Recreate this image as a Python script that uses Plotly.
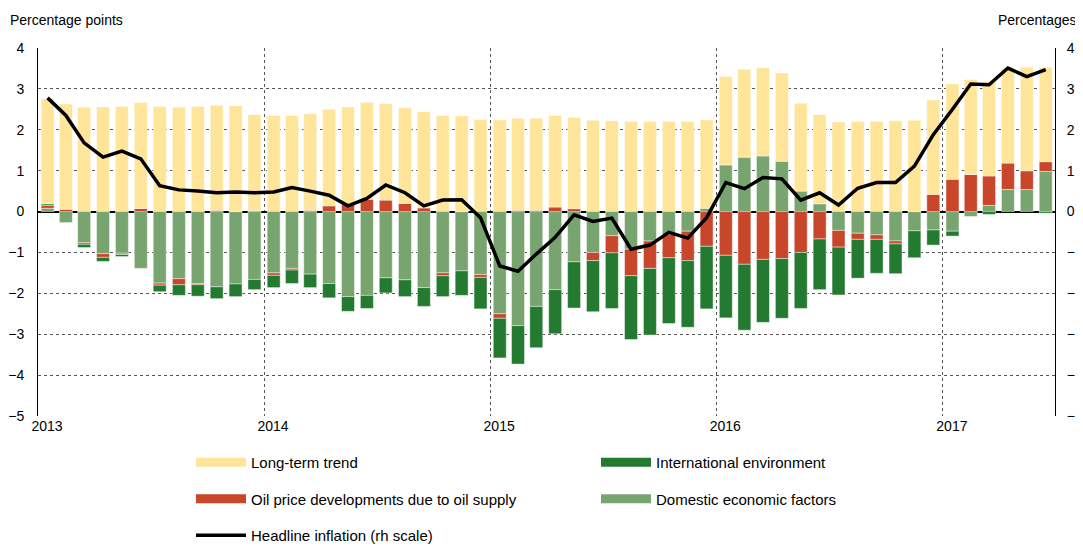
import pandas as pd
import plotly.graph_objects as go

months = pd.date_range("2013-01-01", "2017-06-01", freq="MS")

long_term_trend = [2.57, 2.57, 2.55, 2.56, 2.57, 2.59, 2.57, 2.55, 2.57, 2.57, 2.59, 2.35,
                   2.35, 2.35, 2.36, 2.36, 2.36, 2.37, 2.36, 2.34, 2.35, 2.35, 2.34, 2.25,
                   2.24, 2.25, 2.25, 2.24, 2.23, 2.23, 2.22, 2.20, 2.20, 2.20, 2.20, 2.16,
                   2.16, 2.15, 2.16, 2.16, 2.15, 2.18, 2.19, 2.20, 2.21, 2.22, 2.23, 2.31,
                   2.33, 2.32, 2.30, 2.32, 2.53, 2.31]
oil_supply = [0.07, 0.06, -0.04, -0.09, -0.03, 0.08, -0.05, -0.15, -0.03, 0.03, 0.00, 0.02,
              -0.06, -0.04, 0.03, 0.14, 0.20, 0.30, 0.28, 0.20, 0.09, -0.07, 0.00, -0.07,
              -0.11, 0.03, 0.03, 0.11, 0.07, -0.20, -0.42, -0.65, -0.67, -0.57, -0.72, -0.85,
              -1.07, -1.29, -1.17, -1.15, -1.00, -0.67, -0.41, -0.15, -0.11, -0.07, 0.00, 0.42,
              0.79, 0.91, 0.72, 0.65, 0.46, 0.24]
international = [0.04, 0.00, -0.08, -0.10, -0.05, 0.00, -0.16, -0.26, -0.28, -0.29, -0.31, -0.25,
                 -0.30, -0.33, -0.33, -0.35, -0.36, -0.32, -0.37, -0.41, -0.46, -0.51, -0.60, -0.77,
                 -0.97, -0.94, -1.01, -1.08, -1.13, -1.25, -1.36, -1.56, -1.63, -1.61, -1.63, -1.53,
                 -1.53, -1.61, -1.54, -1.46, -1.37, -1.24, -1.17, -0.95, -0.83, -0.73, -0.66, -0.37,
                 -0.12, 0.00, -0.07, 0.00, 0.00, -0.04]
domestic = [0.08, -0.27, -0.76, -1.03, -1.02, -1.39, -1.75, -1.64, -1.76, -1.84, -1.77, -1.66,
            -1.50, -1.39, -1.53, -1.76, -2.08, -2.05, -1.62, -1.67, -1.86, -1.50, -1.45, -1.54,
            -2.50, -2.79, -2.32, -1.91, -1.23, -1.00, -0.59, -0.92, -0.72, -0.56, -0.48, 0.08,
            1.14, 1.33, 1.36, 1.23, 0.50, 0.19, -0.46, -0.53, -0.57, -0.72, -0.47, -0.45,
            -0.48, -0.12, 0.15, 0.54, 0.54, 0.98]
headline = [2.78, 2.35, 1.68, 1.33, 1.48, 1.29, 0.63, 0.53, 0.50, 0.46, 0.48, 0.46,
            0.48, 0.59, 0.50, 0.40, 0.14, 0.32, 0.65, 0.46, 0.14, 0.28, 0.29, -0.15,
            -1.33, -1.46, -1.04, -0.63, -0.08, -0.24, -0.16, -0.92, -0.82, -0.51, -0.65, -0.15,
            0.71, 0.56, 0.83, 0.80, 0.28, 0.46, 0.16, 0.57, 0.71, 0.71, 1.11, 1.88,
            2.50, 3.12, 3.10, 3.51, 3.30, 3.47]

year_ticks = ["2013-01-01", "2014-01-01", "2015-01-01", "2016-01-01", "2017-01-01"]
year_labels = ["2013", "2014", "2015", "2016", "2017"]

C_TREND = "#FEE59A"
C_OIL = "#C8472A"
C_INT = "#237A30"
C_DOM = "#78A46F"

FONT = "Liberation Sans Narrow, Arial Narrow, Liberation Sans, Arial, sans-serif"

fig = go.Figure()

bar_common = dict(xperiod="M1", xperiodalignment="middle", showlegend=False,
                  marker_line=dict(color="rgba(255,255,255,0.55)", width=0.8))
fig.add_trace(go.Bar(x=months, y=domestic, marker_color=C_DOM, name="Domestic economic factors", **bar_common))
fig.add_trace(go.Bar(x=months, y=oil_supply, marker_color=C_OIL, name="Oil price developments due to oil supply", **bar_common))
fig.add_trace(go.Bar(x=months, y=international, marker_color=C_INT, name="International environment", **bar_common))
fig.add_trace(go.Bar(x=months, y=long_term_trend, marker_color=C_TREND, name="Long-term trend", **bar_common))
fig.add_trace(go.Scatter(x=months, y=headline, mode="lines", yaxis="y2", xperiod="M1",
                         xperiodalignment="middle", line=dict(color="black", width=3.5),
                         showlegend=False, name="Headline inflation (rh scale)"))

# legend proxies
legend_items = [
    ("Long-term trend", C_TREND, 9, "legend"),
    ("Oil price developments due to oil supply", C_OIL, 9, "legend"),
    ("Headline inflation (rh scale)", "black", 3.5, "legend"),
    ("International environment", C_INT, 9, "legend2"),
    ("Domestic economic factors", C_DOM, 9, "legend2"),
]
for i, (name, col, w, lg) in enumerate(legend_items):
    fig.add_trace(go.Scatter(x=[None], y=[None], mode="lines", name=name,
                             line=dict(color=col, width=w), legend=lg,
                             legendgroup=name, legendrank=i, yaxis="y2"))

# the page places the figure 8px in from the top-left corner (body margin);
# keep the page from overflowing vertically
OFF = 8
W, H = 1083 - OFF, 553 - 2 * OFF
PL, PR, PT, PB = 38 - OFF, 1055 - OFF, 48 - OFF, 416 - OFF


def px_x(px):
    return (px - OFF - PL) / (PR - PL)


def px_y(py):
    return (PB - (py - OFF)) / (PB - PT)


leg_common = dict(xref="paper", yref="paper", xanchor="left", yanchor="top",
                  orientation="v", tracegroupgap=14, itemwidth=50,
                  bgcolor="rgba(0,0,0,0)", font=dict(family=FONT, size=15, color="black"))

GRID = "#555"
fig.update_layout(
    width=W, height=H,
    margin=dict(l=PL, r=W - PR, t=PT, b=H - PB, autoexpand=False),
    paper_bgcolor="white", plot_bgcolor="white",
    barmode="relative", bargap=0.29,
    font=dict(family=FONT, size=14, color="black"),
    legend=dict(x=px_x(191), y=px_y(446), **leg_common),
    legend2=dict(x=px_x(596), y=px_y(446), **leg_common),
    xaxis=dict(
        type="date", range=["2013-01-01", "2017-07-01"],
        tickvals=year_ticks, ticktext=year_labels, ticks="", ticklabelshift=9,
        showgrid=False, showline=False, zeroline=False,
        minor=dict(tickvals=year_ticks[1:], showgrid=True, griddash="3px,3px",
                   gridcolor=GRID, gridwidth=1, ticks=""),
        tickfont=dict(size=14),
    ),
    yaxis=dict(
        range=[-5, 4], dtick=1, showgrid=True, griddash="3px,3px", gridcolor=GRID,
        gridwidth=1, zeroline=True, zerolinecolor="black", zerolinewidth=1.5,
        showline=True, linecolor="black", linewidth=1, ticks="", ticklabelstandoff=10,
        tickfont=dict(size=14),
    ),
    yaxis2=dict(
        range=[-5, 4], dtick=1, overlaying="y", side="right", showgrid=False,
        zeroline=False, showline=True, linecolor="black", linewidth=1, ticks="",
        ticklabelstandoff=8, tickfont=dict(size=14),
    ),
    annotations=[
        dict(text="Percentage points", xref="paper", yref="paper", x=px_x(8),
             y=px_y(20), xanchor="left", yanchor="middle", showarrow=False,
             font=dict(size=14)),
        dict(text="Percentages", xref="paper", yref="paper", x=px_x(1079),
             y=px_y(20), xanchor="right", yanchor="middle", showarrow=False,
             font=dict(size=14)),
    ],
)

fig.write_html("out.html")
